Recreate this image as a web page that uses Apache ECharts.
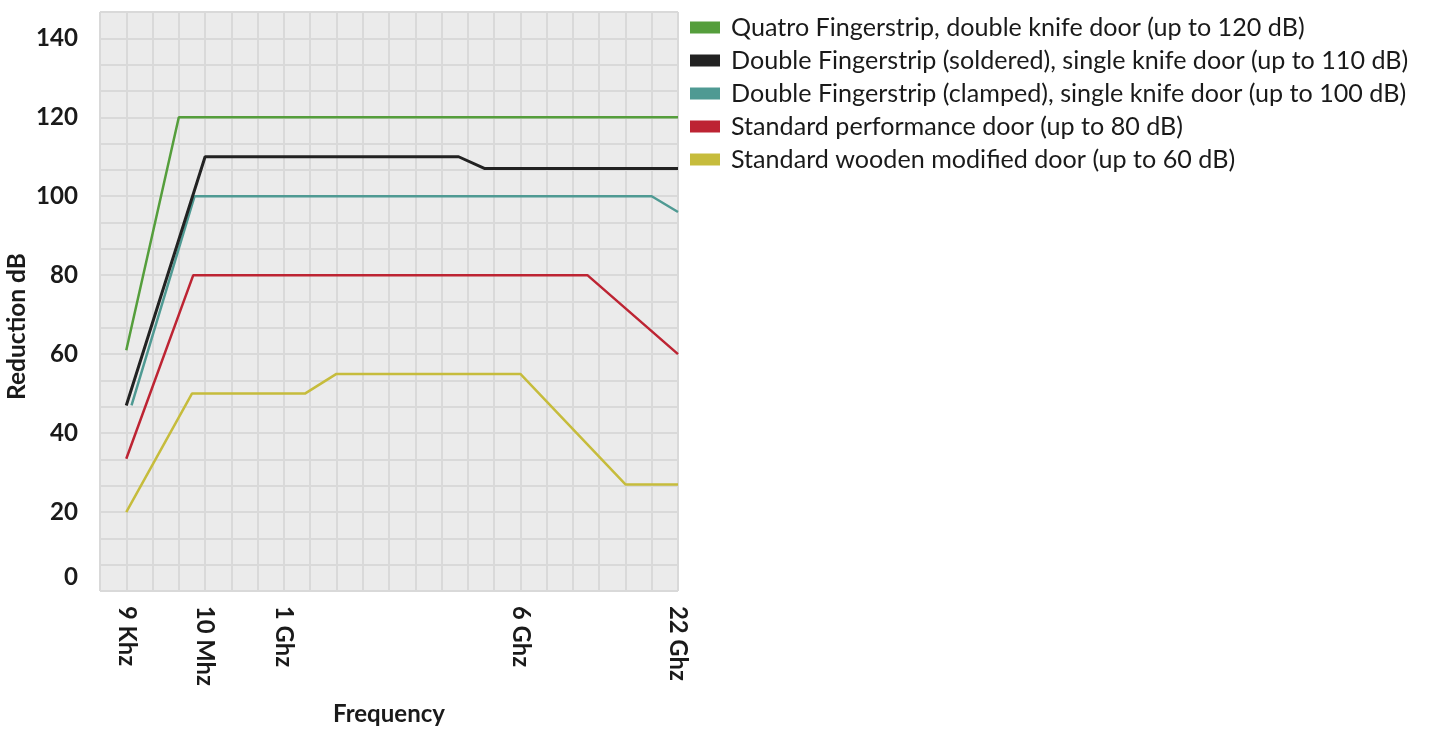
<!DOCTYPE html>
<html>
<head>
<meta charset="utf-8">
<script src="https://cdn.jsdelivr.net/npm/echarts@6/dist/echarts.min.js"></script>
<style>
  html, body { margin: 0; padding: 0; background: #ffffff; }
  #chart { width: 1429px; height: 731px; }
</style>
</head>
<body>
<div id="chart"></div>
<script>
// ---- Data (x positions are in "frequency step" units of the original chart's grid) ----
const xTickPositions = [0, 3, 6, 15, 21];
const xTickLabels = ['9 Khz', '10 Mhz', '1 Ghz', '6 Ghz', '22 Ghz'];

const seriesNames = [
  'Quatro Fingerstrip, double knife door (up to 120 dB)',
  'Double Fingerstrip (soldered), single knife door (up to 110 dB)',
  'Double Fingerstrip (clamped), single knife door (up to 100 dB)',
  'Standard performance door (up to 80 dB)',
  'Standard wooden modified door (up to 60 dB)'
];

const quatroX = [0, 2, 21];
const quatroY = [61, 120, 120];

const solderedX = [0, 3, 12.65, 13.65, 21];
const solderedY = [47, 110, 110, 107, 107];

const clampedX = [0.2, 2.6, 20, 21];
const clampedY = [47, 100, 100, 96];

const standardX = [0, 2.55, 17.55, 21];
const standardY = [33.5, 80, 80, 60];

const woodenX = [0, 2.5, 6.8, 8, 15, 19, 21];
const woodenY = [20, 50, 50, 55, 55, 27, 27];

const seriesColors = ['#559e3c', '#222222', '#4f9a93', '#bd2433', '#c6bc3c'];

// ---- helpers ----
function pairs(xs, ys) { return xs.map((x, i) => [x, ys[i]]); }
function fitSize(text, weight, family, target) {
  const ctx = document.createElement('canvas').getContext('2d');
  ctx.font = weight + ' 100px ' + family;
  return 100 * target / ctx.measureText(text).width;
}
const FONT = 'Lato';
const legendSize = fitSize(seriesNames[0], 'normal', FONT, 574);
const xLabelSize = fitSize('10 Mhz', 'bold', FONT, 80);
const yLabelSize = fitSize('140', 'bold', FONT, 42);
const yNameSize = fitSize('Reduction dB', 'bold', FONT, 147);
const xNameSize = fitSize('Frequency', 'bold', FONT, 112);

const lineData = [
  pairs(quatroX, quatroY),
  pairs(solderedX, solderedY),
  pairs(clampedX, clampedY),
  pairs(standardX, standardY),
  pairs(woodenX, woodenY)
];

const chart = echarts.init(document.getElementById('chart'), null, { renderer: 'canvas' });

const option = {
  backgroundColor: '#ffffff',
  animation: false,
  grid: {
    left: 100, right: 751, top: 12, bottom: 139,
    show: true, backgroundColor: '#ebebeb', borderColor: '#bdbdbd', borderWidth: 1
  },
  legend: {
    orient: 'vertical',
    left: 685, top: 10,
    itemWidth: 30, itemHeight: 12, itemGap: 8,
    icon: 'rect',
    textStyle: { fontFamily: FONT, fontSize: legendSize, lineHeight: 22, color: '#1a1a1a', padding: [0, 0, 0, 6] },
    data: seriesNames
  },
  xAxis: {
    type: 'value', min: -1, max: 21, interval: 1,
    axisLine: { show: false }, axisTick: { show: false },
    splitLine: { show: true, lineStyle: { color: '#d9d9d9', width: 2 } },
    axisLabel: {
      rotate: -90, margin: 15, showMinLabel: true, showMaxLabel: true,
      fontFamily: FONT, fontWeight: 'bold', fontSize: xLabelSize, color: '#1a1a1a',
      formatter: function (v) {
        const i = xTickPositions.findIndex(p => Math.abs(p - v) < 1e-6);
        return i >= 0 ? xTickLabels[i] : '';
      }
    },
    name: 'Frequency', nameLocation: 'middle', nameGap: 111,
    nameTextStyle: { fontFamily: FONT, fontWeight: 'bold', fontSize: xNameSize, color: '#1a1a1a' }
  },
  yAxis: {
    type: 'value', min: 0, max: 440 / 3, interval: 20 / 3,
    axisLine: { show: false }, axisTick: { show: false },
    splitLine: { show: true, lineStyle: { color: '#d9d9d9', width: 2 } },
    axisLabel: {
      margin: 22, showMaxLabel: false,
      fontFamily: FONT, fontWeight: 'bold', fontSize: yLabelSize, color: '#1a1a1a',
      formatter: function (v) {
        const k = v / 20;
        if (Math.abs(k - Math.round(k)) > 1e-6) return '';
        const n = Math.round(v);
        return n === 0 ? '{z|0}' : String(n);
      },
      rich: { z: { fontFamily: FONT, fontWeight: 'bold', fontSize: yLabelSize, color: '#1a1a1a', padding: [0, 0, 28, 0] } }
    },
    name: 'Reduction dB', nameLocation: 'middle', nameGap: 71,
    nameTextStyle: { fontFamily: FONT, fontWeight: 'bold', fontSize: yNameSize, color: '#1a1a1a', padding: [0, 50, 0, 0] }
  },
  series: seriesNames.map((name, i) => ({
    name: name,
    type: 'line',
    data: lineData[i],
    symbol: 'none',
    lineStyle: { color: seriesColors[i], width: i === 1 ? 3 : 2.5 },
    itemStyle: { color: seriesColors[i] },
    z: 10 - i
  }))
};

chart.setOption(option);
</script>
</body>
</html>
